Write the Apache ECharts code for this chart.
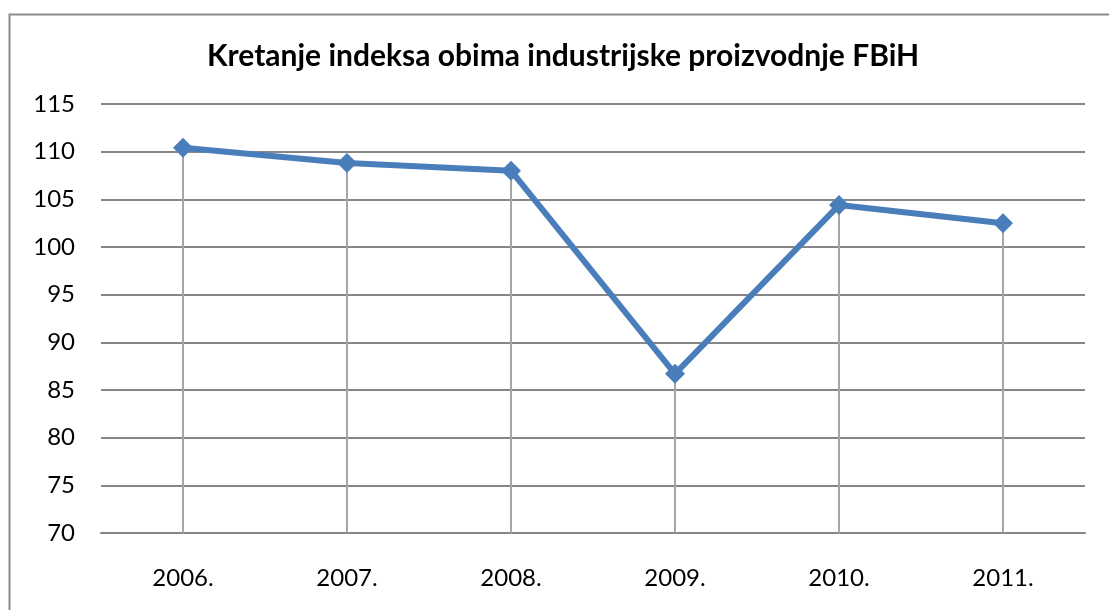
<!DOCTYPE html>
<html>
<head>
<meta charset="utf-8">
<script src="https://cdn.jsdelivr.net/npm/echarts@6/dist/echarts.min.js"></script>
<style>
  html, body { margin: 0; padding: 0; background: #fff; }
  #chart { width: 1109px; height: 610px; }
</style>
</head>
<body>
<div id="chart"></div>
<script>
// chart data
const years = ['2006.', '2007.', '2008.', '2009.', '2010.', '2011.'];
const indexValues = [110.4, 108.8, 108.0, 86.7, 104.4, 102.5];
const yMin = 70;
const yMax = 115;
const yStep = 5;

const chart = echarts.init(document.getElementById('chart'));

const option = {
  animation: false,
  textStyle: { fontFamily: 'Lato, sans-serif' },
  title: {
    text: 'Kretanje indeksa obima industrijske proizvodnje FBiH',
    left: 202,
    top: 36,
    textStyle: { fontSize: 30, fontWeight: 'bold', color: '#000', fontFamily: 'Lato, sans-serif' }
  },
  graphic: [{
    type: 'rect',
    left: 7,
    top: 12,
    shape: { width: 1200, height: 700 },
    style: { fill: 'none', stroke: '#8c8c8c', lineWidth: 2 },
    silent: true
  }],
  grid: { left: 101, right: 24, top: 104, bottom: 77, containLabel: false },
  xAxis: {
    type: 'category',
    data: years,
    boundaryGap: true,
    axisLine: { lineStyle: { color: '#868686', width: 2 } },
    axisTick: { show: false },
    axisLabel: { color: '#000', fontSize: 24, margin: 33 }
  },
  yAxis: {
    type: 'value',
    min: yMin,
    max: yMax,
    interval: yStep,
    axisLine: { show: false },
    axisTick: { show: false },
    axisLabel: { color: '#000', fontSize: 24, margin: 26 },
    splitLine: { lineStyle: { color: '#868686', width: 2 } }
  },
  series: [
    {
      // drop lines from each point to the axis
      type: 'bar',
      data: indexValues,
      barWidth: 2,
      itemStyle: { color: '#a6a6a6' },
      silent: true,
      z: 1
    },
    {
      type: 'line',
      data: indexValues,
      symbol: 'diamond',
      symbolSize: 20,
      lineStyle: { color: '#4a7ebb', width: 6 },
      itemStyle: { color: '#4a7ebb' },
      z: 3
    }
  ]
};

chart.setOption(option);

window.addEventListener('resize', function () {
  chart.resize();
});
</script>
</body>
</html>
